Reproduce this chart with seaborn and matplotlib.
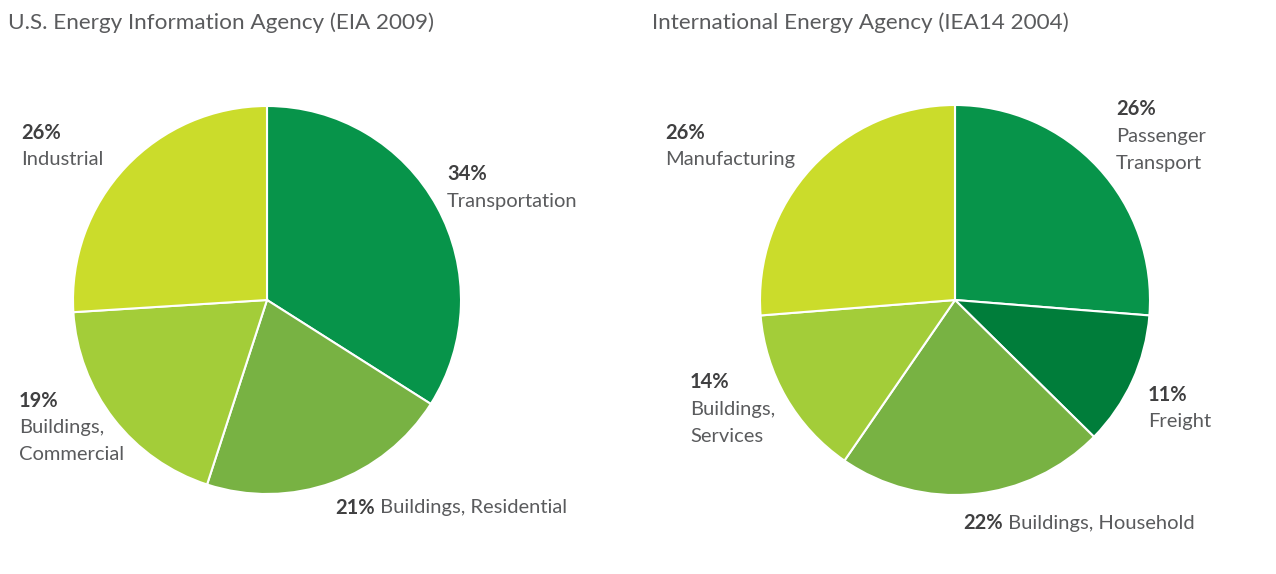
"""
Recreate the two energy end-use pie charts (EIA 2009 vs IEA14 2004).
"""

import matplotlib.pyplot as plt
import seaborn as sns

# ---- data -------------------------------------------------------------
EIA_TITLE = "U.S. Energy Information Agency (EIA 2009)"
EIA_SECTORS = ["Transportation", "Buildings, Residential", "Buildings, Commercial", "Industrial"]
EIA_SHARES = [34, 21, 19, 26]

IEA_TITLE = "International Energy Agency (IEA14 2004)"
IEA_SECTORS = ["Passenger Transport", "Freight", "Buildings, Household", "Buildings, Services", "Manufacturing"]
IEA_SHARES = [26, 11, 22, 14, 26]

# ---- style ------------------------------------------------------------
EIA_COLORS = ["#07944a", "#78b243", "#a3cd39", "#cbdc2b"]
IEA_COLORS = ["#07944a", "#007d3a", "#78b243", "#a3cd39", "#cbdc2b"]
TEXT_COLOR = "#5a5b5d"
BOLD_COLOR = "#404041"
FONT_SIZE = 14.5
TITLE_SIZE = 16.2
LINE_STEP = 27  # pixels between label lines

FIG_W, FIG_H = 1276, 574

# label layout: (lines, x_px, y_px of first line, inline)
EIA_LABELS = [
    (["34%", "Transportation"], 447, 174, False),
    (["21%", "Buildings, Residential"], 335, 508, True),
    (["19%", "Buildings,", "Commercial"], 19, 401, False),
    (["26%", "Industrial"], 21, 133, False),
]
IEA_LABELS = [
    (["26%", "Passenger", "Transport"], 1116, 109, False),
    (["11%", "Freight"], 1148, 395, False),
    (["22%", "Buildings, Household"], 963, 523, True),
    (["14%", "Buildings,", "Services"], 690, 382, False),
    (["26%", "Manufacturing"], 665, 133, False),
]


def configure_plot_style() -> None:
    sns.set_theme(style="white")
    plt.rcParams["font.family"] = ["Lato", "DejaVu Sans"]


def pie_axes(fig, cx, cy, radius):
    """Axes placed in pixel coordinates around a pie centre."""
    return fig.add_axes([
        (cx - radius) / FIG_W,
        (FIG_H - cy - radius) / FIG_H,
        2 * radius / FIG_W,
        2 * radius / FIG_H,
    ])


def draw_pie(ax, shares, colors):
    ax.pie(
        shares,
        colors=sns.color_palette(colors),
        startangle=90,
        counterclock=False,
        radius=1.0,
        wedgeprops={"edgecolor": "white", "linewidth": 1.5},
    )
    ax.set_xlim(-1, 1)
    ax.set_ylim(-1, 1)
    ax.set_aspect("equal")
    ax.axis("off")


def draw_labels(fig, labels):
    for lines, x, y, inline in labels:
        fx, fy = x / FIG_W, 1 - y / FIG_H
        bold = fig.text(fx, fy, lines[0], ha="left", va="center",
                        fontsize=FONT_SIZE, fontweight="bold", color=BOLD_COLOR)
        if inline:
            plt.annotate(" " + lines[1], xy=(1, 0.5), xycoords=bold,
                         ha="left", va="center", fontsize=FONT_SIZE, color=TEXT_COLOR)
            continue
        for i, line in enumerate(lines[1:], start=1):
            fig.text(fx, 1 - (y + i * LINE_STEP) / FIG_H, line, ha="left", va="center",
                     fontsize=FONT_SIZE, color=TEXT_COLOR)


def main() -> None:
    configure_plot_style()
    fig = plt.figure(figsize=(FIG_W / 100, FIG_H / 100), dpi=100)
    fig.patch.set_facecolor("white")

    ax_left = pie_axes(fig, 267, 300, 194)
    draw_pie(ax_left, EIA_SHARES, EIA_COLORS)
    ax_right = pie_axes(fig, 955, 300, 195)
    draw_pie(ax_right, IEA_SHARES, IEA_COLORS)

    fig.text(8 / FIG_W, 1 - 23 / FIG_H, EIA_TITLE, ha="left", va="center",
             fontsize=TITLE_SIZE, color=TEXT_COLOR)
    fig.text(652 / FIG_W, 1 - 23 / FIG_H, IEA_TITLE, ha="left", va="center",
             fontsize=TITLE_SIZE, color=TEXT_COLOR)

    draw_labels(fig, EIA_LABELS)
    draw_labels(fig, IEA_LABELS)

    fig.savefig("out.png", dpi=100, facecolor="white")


if __name__ == "__main__":
    main()
